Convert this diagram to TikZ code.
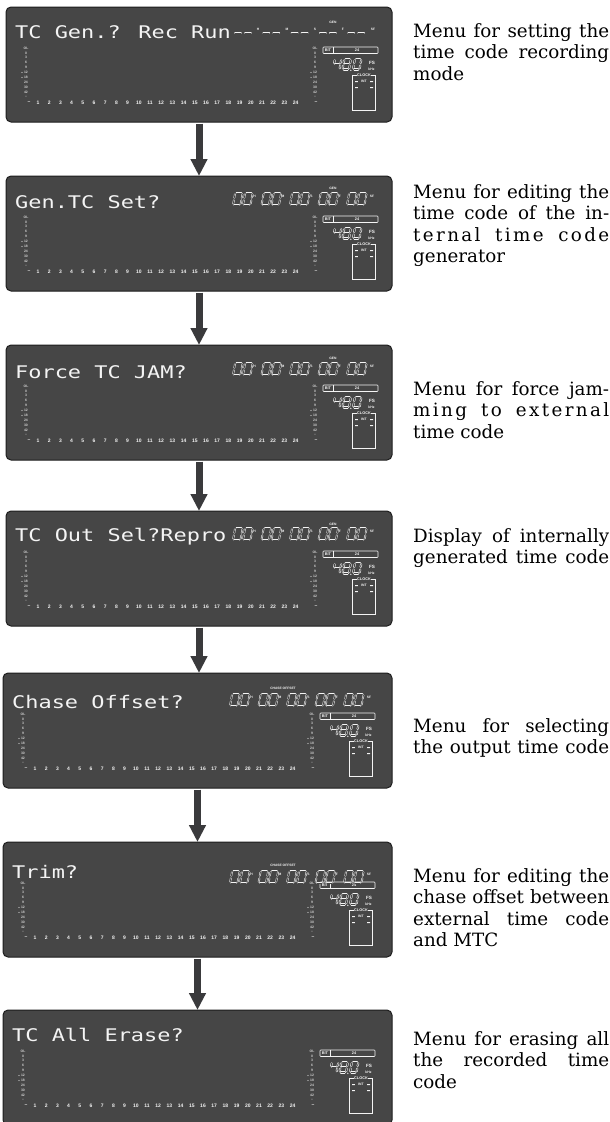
\documentclass[tikz,border=0pt]{standalone}
\usepackage{fontspec}
\usepackage{graphicx}
\usetikzlibrary{arrows.meta}
\setmainfont{DejaVu Serif}
\newfontfamily\lcdfont{DejaVu Sans Mono}
\newfontfamily\smallsans{Liberation Sans}
\definecolor{lcd}{HTML}{464646}
\definecolor{lcdedge}{HTML}{1E1E1E}
\definecolor{lcdtext}{HTML}{F4F4F4}
\definecolor{lcdlab}{HTML}{D0D0D0}
\definecolor{arrowc}{HTML}{3A3A3C}

\tikzset{
  panelbox/.style={draw=lcdedge, line width=1pt, fill=lcd, rounded corners=5pt, minimum height=115pt, inner sep=0pt, outer sep=0pt},
  lcdtxt/.style={anchor=base west, inner sep=0pt, text=lcdtext, font=\lcdfont\fontsize{17.4}{18}\selectfont},
  seg/.style={draw=lcdtext, line width=0.5pt, double=lcd, double distance=0.8pt, line cap=round},
  bigseg/.style={draw=lcdtext, line width=0.55pt, double=lcd, double distance=1pt, line cap=round},
  meterlab/.style={inner sep=0pt, text=lcdlab, font=\smallsans\bfseries\fontsize{3.4}{3.6}\selectfont},
  chlab/.style={inner sep=0pt, text=lcdtext, font=\smallsans\bfseries\fontsize{5}{6}\selectfont},
  tinyw/.style={inner sep=0.3pt, text=lcdtext, font=\smallsans\bfseries\fontsize{3.8}{4}\selectfont},
  tclet/.style={inner sep=0pt, text=lcdtext, font=\smallsans\bfseries\fontsize{3.3}{4}\selectfont},
  thinw/.style={draw=lcdtext, line width=0.6pt},
  bigarrow/.style={draw=arrowc, line width=7pt, shorten <=1.5pt, -{Triangle[width=16pt,length=17pt]}},
  caption/.style={anchor=base west, inner sep=0pt, text=black, font=\fontsize{18.3}{21}\selectfont},
}

% seven segment digit: x, top y, width, height, digit name, style
\newcommand{\segA}{\draw[dseg] (\dg,0)--(\dw-\dg,0);}
\newcommand{\segB}{\draw[dseg] (\dw,\dg)--(\dw,\dh/2-\dg);}
\newcommand{\segC}{\draw[dseg] (\dw,\dh/2+\dg)--(\dw,\dh-\dg);}
\newcommand{\segD}{\draw[dseg] (\dg,\dh)--(\dw-\dg,\dh);}
\newcommand{\segE}{\draw[dseg] (0,\dh/2+\dg)--(0,\dh-\dg);}
\newcommand{\segF}{\draw[dseg] (0,\dg)--(0,\dh/2-\dg);}
\newcommand{\segG}{\draw[dseg] (\dg,\dh/2)--(\dw-\dg,\dh/2);}
\newcommand{\segdigitzero}{\segA\segB\segC\segD\segE\segF}
\newcommand{\segdigitfour}{\segF\segG\segB\segC}
\newcommand{\segdigiteight}{\segA\segB\segC\segD\segE\segF\segG}
\newcommand{\sevenseg}[6]{%
  \begin{scope}[shift={(#1+0.18*#4,#2)}, xslant=0.18, dseg/.style={#6}]
    \def\dw{#3}\def\dh{#4}\def\dg{1.3}%
    \csname segdigit#5\endcsname
  \end{scope}}

\newcommand{\lcdcommon}[1]{%
  \foreach \lab [count=\k from 0] in {OL,0,3,6,9,12,18,24,30,42,\textendash}{
    \node[meterlab] (#1-ml\k) at (20,41+\k*4.9) {\lab};
    \node[meterlab] (#1-mr\k) at (309,41+\k*4.9) {\lab};
  }
  \fill[lcdlab] (16,65.5) circle[radius=0.6pt] (16,70.4) circle[radius=0.6pt]
                (305,65.5) circle[radius=0.6pt] (305,70.4) circle[radius=0.6pt];
  \node[chlab] (#1-cl) at (23,96) {\textendash};
  \foreach \n in {1,...,24}{\node[chlab] (#1-c\n) at (20.8+\n*11.2,96) {\n};}
  \node[chlab] (#1-cr) at (310,96) {\textendash};
  % BIT box
  \draw[thinw, rounded corners=0.8pt] (317,40) rectangle (372,46.5);
  \draw[thinw] (327,40) -- (327,46.5);
  \node[tinyw] (#1-bit) at (322,43.3) {BIT};
  \node[tinyw] (#1-bits) at (351,43.3) {24};
  % 48.0 kHz
  \sevenseg{327}{52}{6.5}{10.5}{four}{bigseg}
  \sevenseg{336.5}{52}{6.5}{10.5}{eight}{bigseg}
  \sevenseg{347}{52}{6.5}{10.5}{zero}{bigseg}
  \fill[lcdtext] (344.8,63.3) circle[radius=0.7pt];
  \node[tinyw, font=\smallsans\bfseries\fontsize{4.6}{5}\selectfont] (#1-fs) at (366,56) {FS};
  \node[tinyw, font=\smallsans\bfseries\fontsize{3.4}{4}\selectfont] (#1-khz) at (365.5,62.5) {kHz};
  % clock box
  \draw[thinw] (351,68) -- (346,68) -- (346,103) -- (369,103) -- (369,68) -- (365,68);
  \node[tinyw] (#1-clock) at (358,68) {CLOCK};
  \node[tinyw, font=\smallsans\bfseries\fontsize{3.4}{4}\selectfont] (#1-int) at (358,74.5) {INT};
  \fill[lcdtext] (349,74) rectangle (351.8,75.2) (364.2,74) rectangle (367,75.2)
                 (349,80) rectangle (351.8,81.2) (364.2,80) rectangle (367,81.2);
}

% timecode digits (00H00M00S00F00SF)
\newcommand{\tcdigits}[2]{%
  \foreach \k in {0,...,4}{
    \pgfmathsetmacro\xo{227+\k*28.5}
    \sevenseg{\xo}{#2}{7.5}{12}{zero}{seg}
    \sevenseg{\xo+10}{#2}{7.5}{12}{zero}{seg}
  }
  \node[tclet] (#1-h) at (248.5,#2+3) {H};
  \node[tclet] (#1-m) at (277,#2+3) {M};
  \node[tclet] (#1-s) at (305.5,#2+3) {S};
  \node[tclet] (#1-f) at (334,#2+3) {F};
  \node[tclet] (#1-sf) at (366,#2+3) {SF};
}
% dashed timecode (--H--M--S--F--SF)
\newcommand{\tcdashes}[1]{%
  \foreach \k in {0,...,4}{
    \pgfmathsetmacro\xo{229+\k*28.3}
    \draw[seg] (\xo,26) -- (\xo+6,26);
    \draw[seg] (\xo+10,26) -- (\xo+16,26);
  }
  \node[tclet] (#1-h) at (252,22) {H};
  \node[tclet] (#1-m) at (281,22) {M};
  \node[tclet] (#1-s) at (309,22) {S};
  \node[tclet] (#1-f) at (337,22) {F};
  \node[tclet] (#1-sf) at (367,22) {SF};
  \node[tclet] (#1-gen) at (327,15) {GEN};
}

% panel: name, x, y, width, text baseline, text, extra
\newcommand{\lcdpanel}[7]{%
  \node[panelbox, minimum width=#4pt, anchor=north west] (#1) at (#2,#3) {};
  \begin{scope}[shift={(#1.north west)}]
    \node[lcdtxt] (#1-txt) at (9,#5) {\scalebox{1.26}[1]{#6}};
    \lcdcommon{#1}
    #7
  \end{scope}}

\begin{document}
\begin{tikzpicture}[x=1pt,y=-1pt]
\path[use as bounding box, fill=white] (0,0) rectangle (610,1122);

\lcdpanel{p1}{6}{7}{386}{31}{TC Gen.? Rec Run}{\tcdashes{p1}}
\lcdpanel{p2}{6}{176}{386}{32}{Gen.TC Set?}{\tcdigits{p2}{17}\node[tclet] (p2-gen) at (327,12.5) {GEN};}
\lcdpanel{p3}{6}{345}{386}{33}{Force TC JAM?}{\tcdigits{p3}{18}\node[tclet] (p3-gen) at (327,13.5) {GEN};}
\lcdpanel{p4}{6}{511}{386}{30.5}{TC Out Sel?Repro}{\tcdigits{p4}{17}\node[tclet] (p4-gen) at (327,13) {GEN};}
\lcdpanel{p5}{3}{673}{389}{35}{Chase Offset?}{\tcdigits{p5}{21}\node[tclet] (p5-co) at (280,15.5) {CHASE OFFSET};}
\lcdpanel{p6}{3}{842}{389}{36}{Trim?}{\tcdigits{p6}{29}\node[tclet] (p6-co) at (280,23) {CHASE OFFSET};}
\lcdpanel{p7}{3}{1010}{389}{31.5}{TC All Erase?}{}

\draw[bigarrow] (p1.south) -- (p2.north);
\draw[bigarrow] (p2.south) -- (p3.north);
\draw[bigarrow] (p3.south) -- (p4.north);
\draw[bigarrow] (p4.south) -- (p4.south |- p5.north);
\draw[bigarrow] (p5.south) -- (p6.north);
\draw[bigarrow] (p6.south) -- (p7.north);

\node[caption] (c1a) at (413,37) {\makebox[196pt][s]{Menu for setting the}};
\node[caption] (c1b) at (413,58.5) {\makebox[196pt][s]{time code recording}};
\node[caption] (c1c) at (413,80) {mode};

\node[caption] (c2a) at (413,198) {\makebox[196pt][s]{Menu for editing the}};
\node[caption] (c2b) at (413,219.5) {\makebox[196pt][s]{time code of the in-}};
\node[caption] (c2c) at (413,241) {\makebox[196pt][s]{\addfontfeatures{LetterSpace=13}ternal time code}};
\node[caption] (c2d) at (413,262.5) {generator};

\node[caption] (c3a) at (413,395) {\makebox[196pt][s]{Menu for force jam-}};
\node[caption] (c3b) at (413,416.5) {\makebox[196pt][s]{\addfontfeatures{LetterSpace=13}ming to external}};
\node[caption] (c3c) at (413,438) {time code};

\node[caption] (c4a) at (413,542) {\makebox[196pt][s]{Display of internally}};
\node[caption] (c4b) at (413,563.5) {\makebox[196pt][s]{generated time code}};

\node[caption] (c5a) at (413,732) {\makebox[196pt][s]{Menu for selecting}};
\node[caption] (c5b) at (413,753.5) {\makebox[196pt][s]{the output time code}};

\node[caption] (c6a) at (413,882) {\makebox[196pt][s]{Menu for editing the}};
\node[caption] (c6b) at (413,903.5) {\makebox[196pt][s]{chase offset between}};
\node[caption] (c6c) at (413,925) {\makebox[196pt][s]{external time code}};
\node[caption] (c6d) at (413,946.5) {and MTC};

\node[caption] (c7a) at (413,1045) {\makebox[196pt][s]{Menu for erasing all}};
\node[caption] (c7b) at (413,1066.5) {\makebox[196pt][s]{the recorded time}};
\node[caption] (c7c) at (413,1088) {code};
\end{tikzpicture}
\end{document}
